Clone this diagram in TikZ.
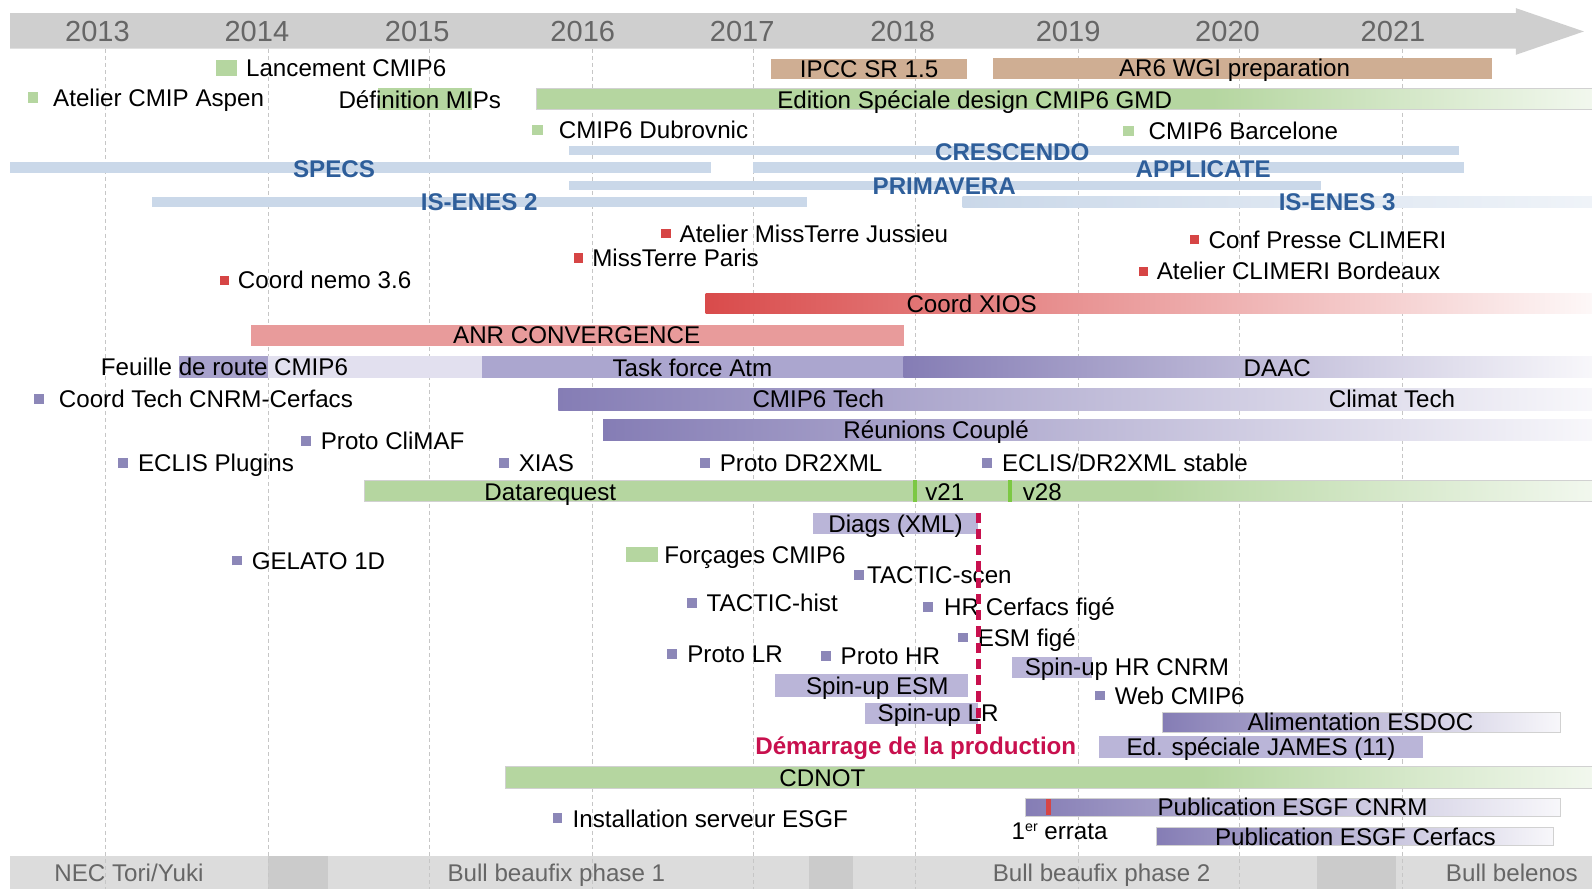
\documentclass[tikz,border=0pt]{standalone}
\usepackage{fontspec}
\setmainfont{Liberation Sans}
\usepackage{tikz}
\definecolor{banner}{HTML}{CFCFCF}
\definecolor{yeargray}{HTML}{666666}
\definecolor{band}{HTML}{DCDCDC}
\definecolor{bandd}{HTML}{CBCBCB}
\definecolor{grn}{HTML}{B5D6A0}
\colorlet{grnend}{white!82!grn}
\definecolor{ipcc}{HTML}{CFAE93}
\definecolor{projbar}{HTML}{CAD8E9}
\definecolor{projtxt}{HTML}{2E5E9A}
\definecolor{redmk}{HTML}{D64545}
\definecolor{xios}{HTML}{D94B4B}
\definecolor{anr}{HTML}{E89B9B}
\definecolor{purmk}{HTML}{8C87B8}
\definecolor{purbar}{HTML}{BAB5D8}
\definecolor{purdk}{HTML}{857DB5}
\definecolor{feuille}{HTML}{E2E0EF}
\definecolor{feuilled}{HTML}{A7A1CB}
\definecolor{taskf}{HTML}{ABA6CF}
\definecolor{prod}{HTML}{C8104E}
\definecolor{vmark}{HTML}{7CC843}
\pgfdeclarehorizontalshading{greenfade}{100bp}{color(0bp)=(grn); color(25bp)=(grn); color(57bp)=(grn); color(75bp)=(grnend); color(100bp)=(grnend)}
\newcommand{\mkg}[1][7.5pt]{\textcolor{grn}{\rule[1.8pt]{5pt}{5pt}}\hspace{#1}}
\newcommand{\mkr}[1][4.5pt]{\textcolor{redmk}{\rule[2pt]{4.5pt}{4.5pt}}\hspace{#1}}
\newcommand{\mkp}[1][5pt]{\textcolor{purmk}{\rule[1.9pt]{4.8pt}{4.8pt}}\hspace{#1}}
\tikzset{txt/.style={inner sep=0pt, text height=8.6pt, text depth=0pt, font=\fontsize{11.9}{14}\selectfont},
  ms/.style={txt, anchor=west},
  proj/.style={txt, font=\fontsize{11.9}{14}\selectfont\bfseries, text=projtxt},
  yr/.style={inner sep=0pt, text height=10.3pt, text depth=0pt, font=\fontsize{14.3}{17}\selectfont, text=yeargray},
  machine/.style={txt, text=yeargray},
  grid/.style={gray!45, line width=0.35pt, dash pattern=on 2pt off 1.5pt},
  gbar/.style={fill=grn}, pbar/.style={fill=purbar}, projline/.style={fill=projbar},
  gfade/.style={shade, shading=greenfade},
  pfade/.style={left color=purdk, right color=white!94!purdk},
  boxed/.style={draw=black!18, line width=0.4pt},
  prodline/.style={prod, line width=2.6pt, dash pattern=on 5pt off 3pt}}

\begin{document}
\begin{tikzpicture}[x=0.5pt, y=-0.5pt]
    \useasboundingbox (0,0) rectangle (1568,876);
    \fill[banner] (10,13) -- (1493,13) -- (1493,8) -- (1560,31) -- (1493,54) -- (1493,48) -- (10,48) -- cycle;
    \fill[band] (10,843) rectangle (1568,876);
    \fill[bandd] (264,843) rectangle (323,876);
    \fill[bandd] (797,843) rectangle (840,876);
    \fill[bandd] (1297,843) rectangle (1375,876);
    \node[yr] (y2013) at (96,31) {2013};
    \node[yr] (y2014) at (253,31) {2014};
    \node[yr] (y2015) at (411,31) {2015};
    \node[yr] (y2016) at (574,31) {2016};
    \node[yr] (y2017) at (731,31) {2017};
    \node[yr] (y2018) at (889,31) {2018};
    \node[yr] (y2019) at (1052,31) {2019};
    \node[yr] (y2020) at (1209,31) {2020};
    \node[yr] (y2021) at (1372,31) {2021};
    \draw[grid] (104,48) -- (104,876) (264,48) -- (264,876) (423,48) -- (423,876)
    	(583,48) -- (583,876) (742,48) -- (742,876) (902,48) -- (902,876)
    	(1062,48) -- (1062,876) (1221,48) -- (1221,876) (1381,48) -- (1381,876);
    \node[machine] (nec) at (127,860) {NEC Tori/Yuki};
    \node[machine] (beaufix1) at (548,860) {Bull beaufix phase 1};
    \node[machine] (beaufix2) at (1085,860) {Bull beaufix phase 2};
    \node[machine] (belenos) at (1489,860) {Bull belenos};

    \fill[ipcc] (759,58) rectangle (952,78);
    \fill[ipcc] (978,57) rectangle (1469,78);
    \fill[gbar] (372,87) rectangle (465,108);
    \path[gfade, boxed] (528,87) rectangle (1568,108);
    \fill[projline] (560,144) rectangle (1437,153);
    \fill[projline] (10,160) rectangle (700,170);
    \fill[projline] (742,160) rectangle (1442,170);
    \fill[projline] (560,178) rectangle (1301,187);
    \fill[projline] (150,194) rectangle (795,204);
    \path[left color=projbar, right color=white!70!projbar] (948,194) rectangle (1568,204);
    \path[left color=xios, right color=white!96!xios] (695,289) rectangle (1568,309);
    \fill[anr] (247,320) rectangle (890,341);
    \fill[feuilled] (176,351) rectangle (264,372);
    \fill[feuille] (264,351) rectangle (475,372);
    \fill[taskf] (475,351) rectangle (890,372);
    \path[pfade] (890,351) rectangle (1568,372);
    \path[pfade] (550,383) rectangle (1568,404);
    \path[pfade] (594,413) rectangle (1568,434);
    \path[gfade, boxed] (359,473) rectangle (1568,494);
    \fill[vmark] (899,473) rectangle (903,494);
    \fill[vmark] (993,473) rectangle (997,494);
    \fill[pbar] (801,505) rectangle (963,526);
    \fill[pbar] (997,647) rectangle (1076,668);
    \fill[pbar] (763,664) rectangle (953,686);
    \fill[pbar] (852,692) rectangle (963,713);
    \path[pfade, boxed] (1145,702) rectangle (1537,721);
    \fill[pbar] (1082,725) rectangle (1402,747);
    \path[gfade, boxed] (498,755) rectangle (1568,777);
    \path[pfade, boxed] (1010,786) rectangle (1537,804);
    \fill[redmk] (1030,787) rectangle (1035,803);
    \path[pfade, boxed] (1139,815) rectangle (1530,833);

    \node[ms] (lancement) at (212,67) {\textcolor{grn}{\rule[0.3pt]{10.5pt}{8pt}}\hspace{4.5pt}Lancement CMIP6};
    \node[txt] (ipccsr) at (856,68) {IPCC SR 1.5};
    \node[txt] (ar6) at (1216,67) {AR6 WGI preparation};
    \node[ms] (aspen) at (27,96) {\mkg Atelier CMIP Aspen};
    \node[ms] (defmips) at (333,98) {Définition MIPs};
    \node[txt] (gmd) at (960,98) {Edition Spéciale design CMIP6 GMD};
    \node[ms] (dubrovnic) at (524,128) {\mkg[8pt]CMIP6 Dubrovnic};
    \node[ms] (barcelone) at (1106,129) {\mkg CMIP6 Barcelone};
    \node[proj] (crescendo) at (997,149) {CRESCENDO};
    \node[proj] (specs) at (329,166) {SPECS};
    \node[proj] (applicate) at (1185,166) {APPLICATE};
    \node[proj] (primavera) at (930,183) {PRIMAVERA};
    \node[proj] (isenes2) at (472,199) {IS-ENES 2};
    \node[proj] (isenes3) at (1317,199) {IS-ENES 3};
    \node[ms] (jussieu) at (651,230) {\mkr Atelier MissTerre Jussieu};
    \node[ms] (paris) at (565,254) {\mkr MissTerre Paris};
    \node[ms] (nemo) at (216,276) {\mkr Coord nemo 3.6};
    \node[ms] (presse) at (1172,236) {\mkr Conf Presse CLIMERI};
    \node[ms] (bordeaux) at (1121,267) {\mkr Atelier CLIMERI Bordeaux};
    \node[txt] (xiostxt) at (957,299) {Coord XIOS};
    \node[txt] (anrtxt) at (568,330) {ANR CONVERGENCE};
    \node[ms] (feuilletxt) at (99,361) {Feuille de route CMIP6};
    \node[txt] (taskforce) at (682,362) {Task force Atm};
    \node[txt] (daac) at (1258,362) {DAAC};
    \node[ms] (coordtech) at (33,393) {\mkp[7.5pt]Coord Tech CNRM-Cerfacs};
    \node[txt] (cmiptech) at (806,393) {CMIP6 Tech};
    \node[txt] (climattech) at (1371,393) {Climat Tech};
    \node[txt] (reunions) at (922,423) {Réunions Couplé};
    \node[ms] (climaf) at (296,434) {\mkp Proto CliMAF};
    \node[ms] (eclisplug) at (116,456) {\mkp ECLIS Plugins};
    \node[ms] (xias) at (491,456) {\mkp XIAS};
    \node[ms] (dr2xml) at (689,456) {\mkp Proto DR2XML};
    \node[ms] (eclisstable) at (967,456) {\mkp ECLIS/DR2XML stable};
    \node[txt] (datareq) at (542,484) {Datarequest};
    \node[ms] (v21) at (911,484) {v21};
    \node[ms] (v28) at (1007,484) {v28};
    \node[txt] (diags) at (882,516) {Diags (XML)};
    \node[ms] (forcages) at (616,546) {\textcolor{grn}{\rule[0.5pt]{16pt}{7.5pt}}\hspace{3pt}Forçages CMIP6};
    \node[ms] (gelato) at (228,552) {\mkp GELATO 1D};
    \node[ms] (tacticscen) at (841,566) {\mkp[1.5pt]TACTIC-scen};
    \node[ms] (tactichist) at (676,594) {\mkp TACTIC-hist};
    \node[ms] (hrfige) at (909,598) {\mkp[5.5pt]HR Cerfacs figé};
    \node[ms] (esmfige) at (943,628) {\mkp ESM figé};
    \node[ms] (protolr) at (657,644) {\mkp Proto LR};
    \node[ms] (protohr) at (808,646) {\mkp Proto HR};
    \node[ms] (spinhr) at (1009,657) {Spin-up HR CNRM};
    \node[txt] (spinesm) at (864,675) {Spin-up ESM};
    \node[ms] (web) at (1078,685) {\mkp Web CMIP6};
    \node[ms] (spinlr) at (864,702) {Spin-up LR};
    \node[txt] (esdoc) at (1340,711) {Alimentation ESDOC};
    \node[txt, font=\fontsize{11.9}{14}\selectfont\bfseries, text=prod] (demarrage) at (902,735) {Démarrage de la production};
    \node[txt] (james) at (1242,736) {Ed. spéciale JAMES (11)};
    \node[txt] (cdnot) at (810,766) {CDNOT};
    \node[txt] (pubcnrm) at (1273,795) {Publication ESGF CNRM};
    \node[ms] (esgf) at (544,806) {\mkp Installation serveur ESGF};
    \node[ms] (errata) at (996,818) {1\raisebox{4pt}{\fontsize{7}{8}\selectfont er} errata};
    \node[txt] (pubcerfacs) at (1335,824) {Publication ESGF Cerfacs};

    \coordinate (prodtop) at (964,505);
    \coordinate (prodend) at (964,729);
    \draw[prodline] (prodtop) -- (prodend);
\end{tikzpicture}
\end{document}
